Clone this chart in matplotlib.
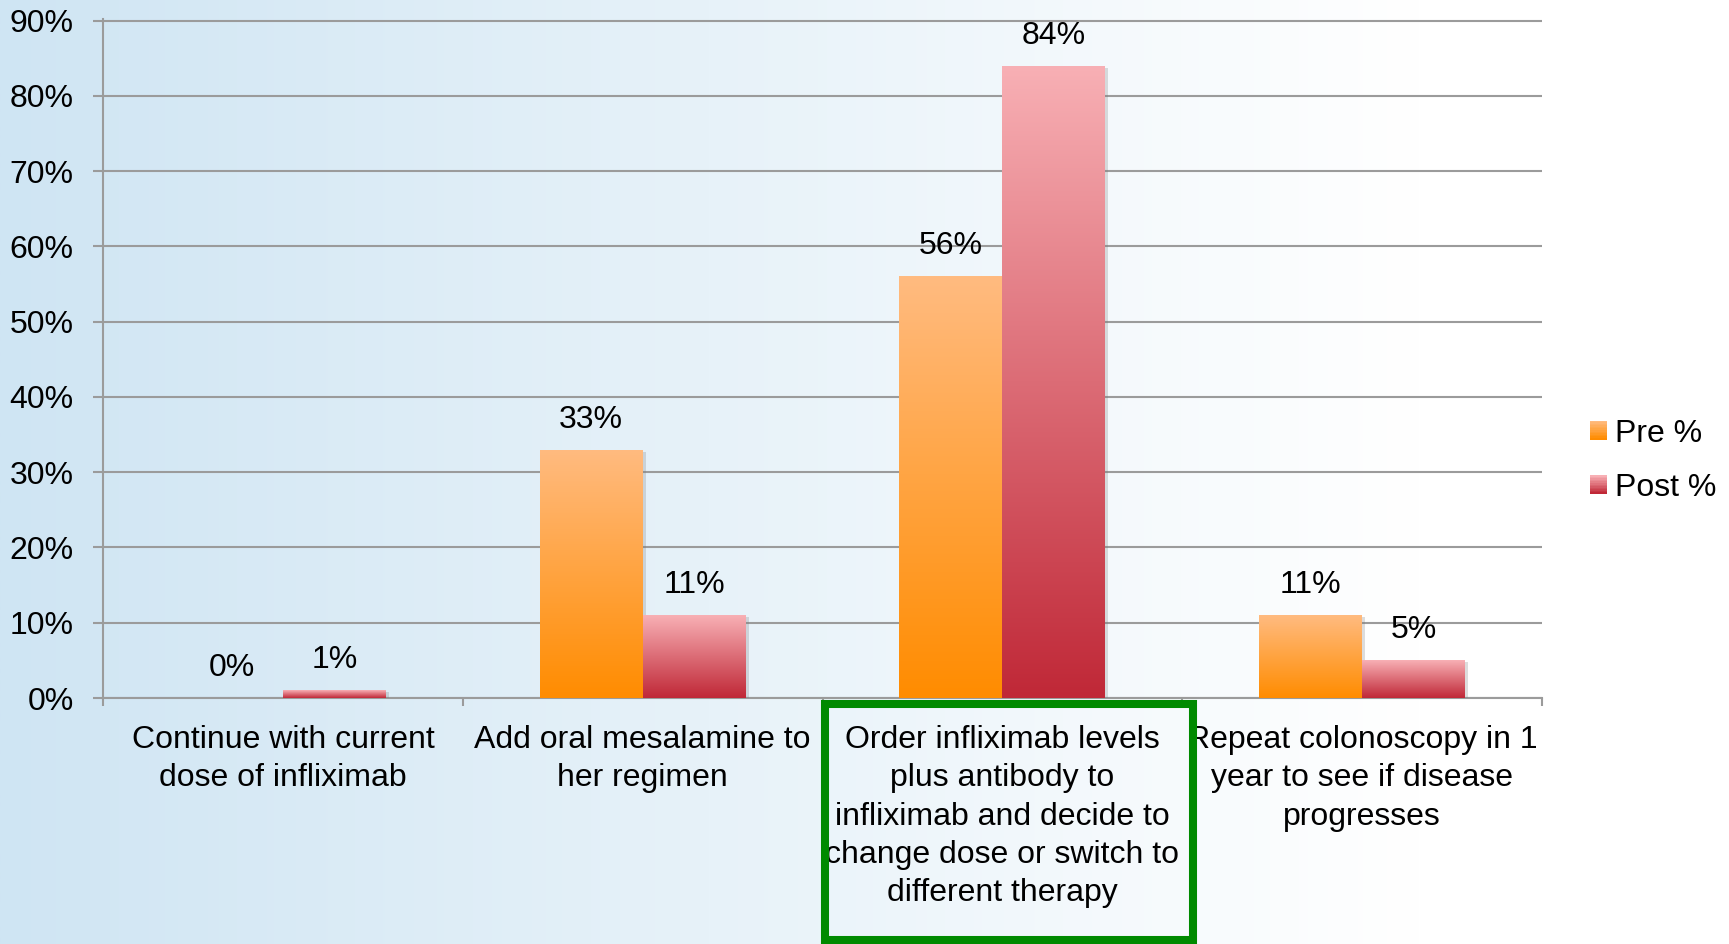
import numpy as np
import matplotlib
matplotlib.use("Agg")
import matplotlib.pyplot as plt
from matplotlib.patches import Rectangle, Patch
from matplotlib.legend_handler import HandlerBase
from matplotlib.transforms import offset_copy

plt.rcParams['font.family'] = ['Liberation Sans', 'DejaVu Sans']

# survey answers, percent of respondents before / after
categories = [
    "Continue with current\ndose of infliximab",
    "Add oral mesalamine to\nher regimen",
    "Order infliximab levels\nplus antibody to\ninfliximab and decide to\nchange dose or switch to\ndifferent therapy",
    "Repeat colonoscopy in 1\nyear to see if disease\nprogresses",
]
pre = [0, 33, 56, 11]
post = [1, 11, 84, 5]
series_names = ["Pre %", "Post %"]
yticks = [0, 10, 20, 30, 40, 50, 60, 70, 80, 90]

# gradient end colours (top, bottom) for each series
pre_colors = ((255, 187, 128), (255, 140, 0))
post_colors = ((248, 176, 181), (192, 40, 55))
grid_color = '#9b9b9b'
FS = 23


def vgrad(top, bottom, n=256):
    t = np.linspace(0, 1, n)[:, None]
    top = np.array(top) / 255.0
    bottom = np.array(bottom) / 255.0
    g = top + (bottom - top) * t
    return g[:, None, :]


class GradientHandler(HandlerBase):
    def __init__(self, top, bottom):
        super().__init__()
        self.top = np.array(top) / 255.0
        self.bottom = np.array(bottom) / 255.0

    def create_artists(self, legend, orig_handle, xdescent, ydescent,
                       width, height, fontsize, trans):
        n = 12
        arts = []
        for i in range(n):
            c = self.top + (self.bottom - self.top) * i / (n - 1)
            y = -ydescent + height * (n - 1 - i) / n
            arts.append(Rectangle((-xdescent, y), width, height / n + 0.3,
                                  facecolor=c, edgecolor='none', transform=trans))
        return arts


fig = plt.figure(figsize=(17.29, 9.44), dpi=100)

# light blue to white page background
bg = fig.add_axes([0, 0, 1, 1], zorder=-10)
xs = np.linspace(0, 1, 600)
left = np.array([207, 229, 243]) / 255.0
frac = np.clip(xs / 0.82, 0, 1)[:, None]
row = left + (1 - left) * frac
bg.imshow(row[None, :, :], aspect='auto', extent=[0, 1, 0, 1])
bg.set_axis_off()

ax = fig.add_axes([103 / 1729, 1 - 698 / 944, (1542 - 103) / 1729, (698 - 19) / 944])
ax.patch.set_alpha(0)

x = np.arange(len(categories))
w = 0.286
bars_pre = ax.bar(x - w / 2, pre, w, color='none', edgecolor='none', zorder=3)
bars_post = ax.bar(x + w / 2, post, w, color='none', edgecolor='none', zorder=3)

shadow_tr = offset_copy(ax.transData, fig=fig, x=3, y=-2, units='dots')
for bars, cols in ((bars_pre, pre_colors), (bars_post, post_colors)):
    for r in bars:
        h = r.get_height()
        if h <= 0:
            continue
        x0 = r.get_x()
        ax.add_patch(Rectangle((x0, 0), r.get_width(), h, facecolor='#7a7a7a',
                               alpha=0.25, edgecolor='none', transform=shadow_tr, zorder=2))
        im = ax.imshow(vgrad(*cols), extent=[x0, x0 + r.get_width(), 0, h],
                       aspect='auto', zorder=3, interpolation='bilinear')
        im.set_clip_path(r)

for bars, vals in ((bars_pre, pre), (bars_post, post)):
    for r, v in zip(bars, vals):
        ax.annotate(f"{v}%", (r.get_x() + r.get_width() / 2, v), xytext=(0, 21.6),
                    textcoords='offset points', ha='center', va='center', fontsize=FS)

ax.set_xlim(-0.5, len(categories) - 0.5)
ax.set_ylim(0, 90.2)
ax.set_yticks(yticks)
ax.set_yticklabels([f"{t}%" for t in yticks])
ax.set_xticks(x)
ax.set_xticklabels(categories, fontsize=FS, linespacing=1.36)
ax.set_xticks(np.arange(len(categories) + 1) - 0.5, minor=True)
ax.tick_params(axis='x', which='major', length=0, pad=19.5)
ax.tick_params(axis='x', which='minor', length=6, width=1.5, color=grid_color, direction='out')
ax.tick_params(axis='y', length=7.2, width=1.5, color=grid_color, pad=14, labelsize=FS)

ax.yaxis.grid(True, color=grid_color, linewidth=1.5)
ax.set_axisbelow(True)
for s in ('top', 'right'):
    ax.spines[s].set_visible(False)
for s in ('left', 'bottom'):
    ax.spines[s].set_color(grid_color)
    ax.spines[s].set_linewidth(1.5)
    ax.spines[s].set_zorder(1)

handles = [Patch(label=series_names[0]), Patch(label=series_names[1])]
fig.legend(handles=handles, labels=series_names,
           handler_map={handles[0]: GradientHandler(*pre_colors),
                        handles[1]: GradientHandler(*post_colors)},
           loc='center left', bbox_to_anchor=(1590 / 1729, 1 - 461 / 944),
           frameon=False, fontsize=FS, handlelength=0.53, handleheight=0.53,
           handletextpad=0.25, labelspacing=0.77, borderpad=0, borderaxespad=0)

# highlighted answer
fig.add_artist(Rectangle((825 / 1729, 1 - 940 / 944), (1193 - 825) / 1729, (940 - 704) / 944,
                         transform=fig.transFigure, fill=False,
                         edgecolor='#008a00', linewidth=5.8, zorder=20))

fig.savefig("out.png", dpi=100)
